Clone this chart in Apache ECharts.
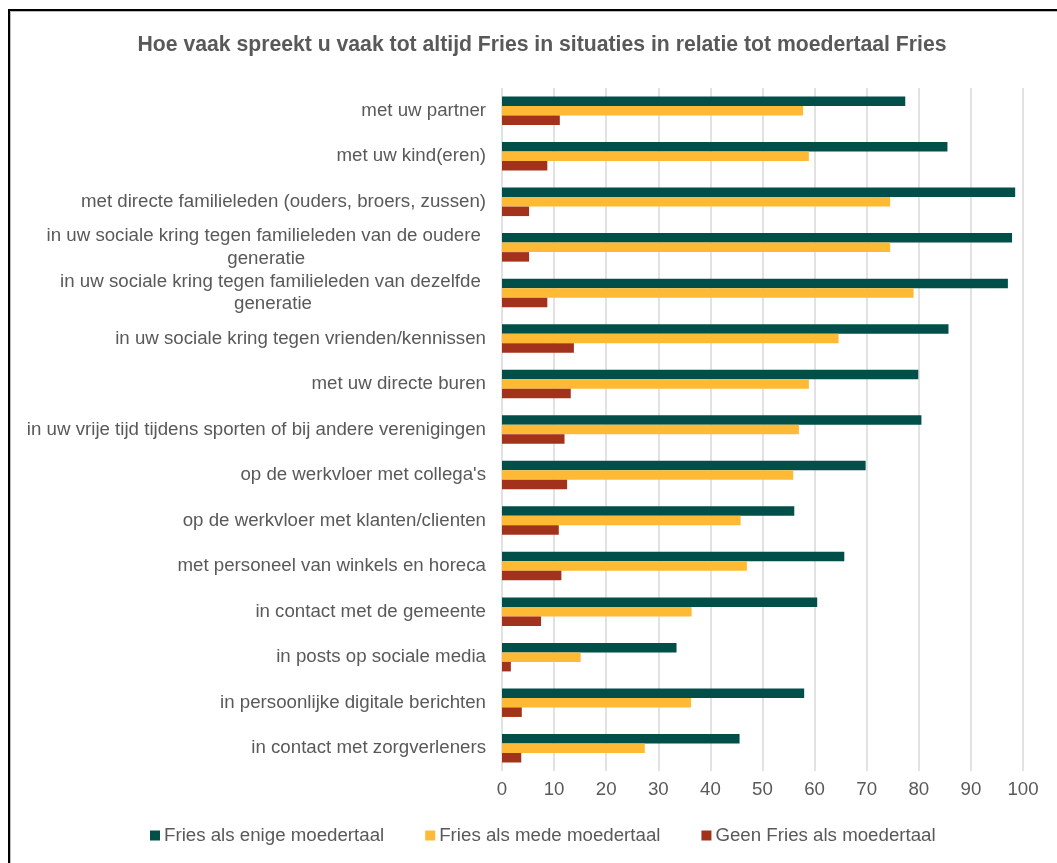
<!DOCTYPE html>
<html>
<head>
<meta charset="utf-8">
<script src="https://cdn.jsdelivr.net/npm/echarts@6/dist/echarts.min.js"></script>
<style>
  html, body { margin: 0; padding: 0; background: #fff; }
  #frame { position: absolute; left: 8px; top: 9px; width: 2000px; height: 2000px;
           border-left: 2px solid #000; border-top: 2px solid #000; box-shadow: inset 1px 1px 0 #bbb; }
  #chart { position: absolute; left: 0; top: 0; width: 1057px; height: 863px; }
</style>
</head>
<body>
<div id="frame"></div>
<div id="chart"></div>
<script>
const titleText = 'Hoe vaak spreekt u vaak tot altijd Fries in situaties in relatie tot moedertaal Fries';
const categories = [
  'met uw partner',
  'met uw kind(eren)',
  'met directe familieleden (ouders, broers, zussen)',
  'in uw sociale kring tegen familieleden van de oudere \ngeneratie',
  'in uw sociale kring tegen familieleden van dezelfde \ngeneratie',
  'in uw sociale kring tegen vrienden/kennissen',
  'met uw directe buren',
  'in uw vrije tijd tijdens sporten of bij andere verenigingen',
  "op de werkvloer met collega's",
  'op de werkvloer met klanten/clienten',
  'met personeel van winkels en horeca',
  'in contact met de gemeente',
  'in posts op sociale media',
  'in persoonlijke digitale berichten',
  'in contact met zorgverleners'
];
const seriesNames = ['Fries als enige moedertaal', 'Fries als mede moedertaal', 'Geen Fries als moedertaal'];
const friesEnige = [77.4, 85.5, 98.5, 97.9, 97.1, 85.7, 79.9, 80.5, 69.8, 56.1, 65.7, 60.5, 33.5, 58.0, 45.6];
const friesMede  = [57.8, 58.9, 74.5, 74.5, 79.0, 64.6, 58.9, 57.0, 55.9, 45.8, 47.0, 36.4, 15.1, 36.3, 27.4];
const geenFries  = [11.1,  8.7,  5.2,  5.2,  8.7, 13.8, 13.2, 12.0, 12.5, 10.9, 11.4,  7.5,  1.7,  3.8,  3.7];
const xTicks = { min: 0, max: 100, interval: 10 };

const colors = ['#024F4A', '#FFBA35', '#A3321C'];
const textColor = '#595959';
const fontFamily = '"Liberation Sans", Arial, sans-serif';
const fs = 18.7;

const chart = echarts.init(document.getElementById('chart'), null, { renderer: 'canvas' });
const mk = (name, data, i) => ({
  name, type: 'bar', data,
  barWidth: 9.5, barGap: '0%', barCategoryGap: '37%',
  itemStyle: { color: colors[i] },
  emphasis: { disabled: true }
});
chart.setOption({
  backgroundColor: 'transparent',
  animation: false,
  color: colors,
  title: {
    text: titleText, left: 537, top: 30, textAlign: 'center',
    textStyle: { fontFamily, fontSize: 21.2, fontWeight: 'bold', color: textColor }
  },
  grid: { left: 502, right: 34, top: 88, height: 683, containLabel: false },
  legend: {
    left: 145, top: 821, itemWidth: 10, itemHeight: 10, itemGap: 41,
    icon: 'rect',
    textStyle: { fontFamily, fontSize: fs, color: textColor, padding: [0, 0, 0, -1] },
    data: seriesNames
  },
  xAxis: {
    type: 'value', min: xTicks.min, max: xTicks.max, interval: xTicks.interval,
    axisLine: { show: false }, axisTick: { show: false },
    axisLabel: { fontFamily, fontSize: fs, color: textColor, margin: 9 },
    splitLine: { show: true, lineStyle: { color: '#d9d9d9', width: 1.5 } }
  },
  yAxis: {
    type: 'category', inverse: true, data: categories,
    axisLine: { show: false }, axisTick: { show: false },
    axisLabel: {
      fontFamily, fontSize: fs, color: textColor, margin: 16, lineHeight: 22.5,
      formatter: v => v.indexOf('\n') >= 0 ? v.split('\n').map(l => '{c|' + l + '}').join('\n') : v,
      rich: { c: { align: 'center', fontFamily, fontSize: fs, color: textColor, lineHeight: 22.5 } }
    }
  },
  series: [mk(seriesNames[0], friesEnige, 0), mk(seriesNames[1], friesMede, 1), mk(seriesNames[2], geenFries, 2)]
});
</script>
</body>
</html>
